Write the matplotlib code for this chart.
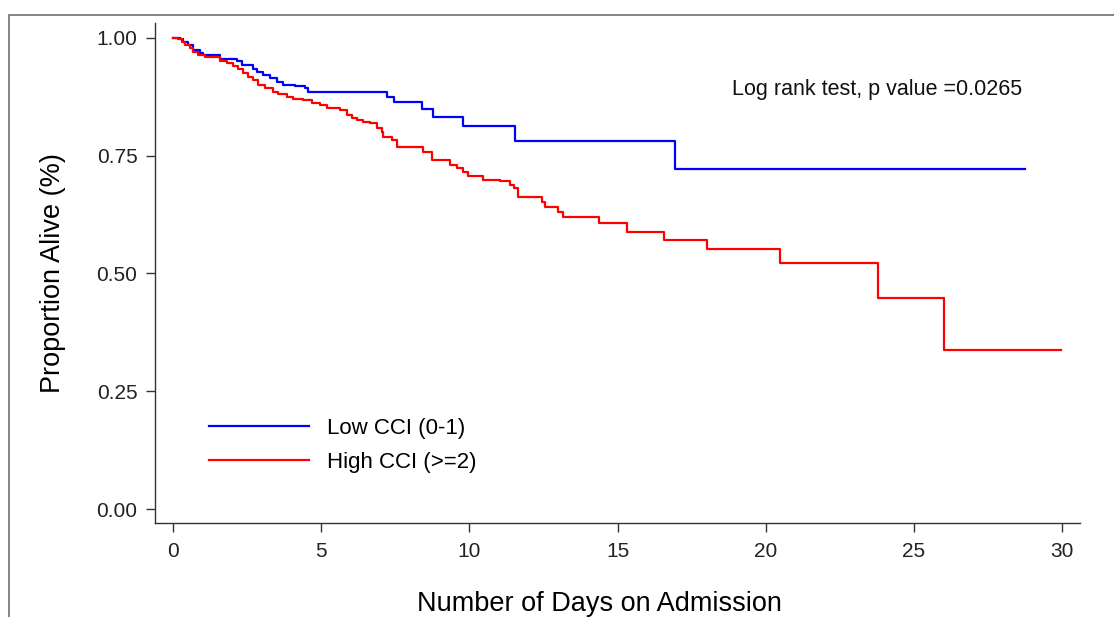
import matplotlib
matplotlib.use("Agg")
import matplotlib.pyplot as plt
from matplotlib.patches import Rectangle

plt.rcParams["font.family"] = ["Liberation Sans", "DejaVu Sans"]

# Kaplan-Meier step points (day, survival)
low_days = [0.0, 0.24, 0.35, 0.52, 0.69, 0.91, 1.02, 1.59, 2.15, 2.32, 2.71, 2.82,
            3.05, 3.27, 3.50, 3.72, 4.12, 4.45, 4.57, 7.23, 7.45, 8.39, 8.79, 9.80,
            11.54, 16.94, 28.75]
low_surv = [1.000, 0.997, 0.992, 0.985, 0.975, 0.967, 0.964, 0.955, 0.950, 0.943, 0.935, 0.928,
            0.921, 0.914, 0.907, 0.900, 0.897, 0.893, 0.885, 0.874, 0.863, 0.849, 0.832, 0.812,
            0.781, 0.721, 0.721]

high_days = [0.0, 0.18, 0.29, 0.40, 0.57, 0.69, 0.85, 1.08, 1.42, 1.59, 1.81, 2.04, 2.20,
             2.37, 2.54, 2.71, 2.88, 3.10, 3.39, 3.55, 3.84, 4.06, 4.40, 4.68, 4.96,
             5.19, 5.64, 5.86, 6.03, 6.20, 6.42, 6.65, 6.87, 7.04, 7.10, 7.38, 7.55,
             8.45, 8.73, 9.24, 9.35, 9.57, 9.80, 9.97, 10.47, 11.04, 11.37, 11.49,
             11.65, 12.44, 12.55, 13.00, 13.17, 14.38, 15.33, 16.55, 18.03, 20.49,
             23.78, 26.00, 29.97]
high_surv = [1.000, 0.997, 0.992, 0.985, 0.978, 0.971, 0.964, 0.960, 0.959, 0.950, 0.946, 0.940,
             0.933, 0.925, 0.918, 0.911, 0.900, 0.893, 0.886, 0.882, 0.874, 0.870, 0.868,
             0.861, 0.858, 0.851, 0.847, 0.837, 0.829, 0.826, 0.822, 0.819, 0.808, 0.801,
             0.790, 0.783, 0.768, 0.757, 0.741, 0.740, 0.730, 0.723, 0.716, 0.706, 0.699,
             0.697, 0.688, 0.681, 0.663, 0.652, 0.642, 0.631, 0.619, 0.607, 0.589, 0.571,
             0.551, 0.523, 0.447, 0.338, 0.338]

labels = ["Low CCI (0-1)", "High CCI (>=2)"]
x_ticks = [0, 5, 10, 15, 20, 25, 30]
y_ticks = [0.00, 0.25, 0.50, 0.75, 1.00]
p_text = "Log rank test, p value =0.0265"

fig = plt.figure(figsize=(11.14, 6.17), dpi=100)
ax = fig.add_axes([0.139, 0.152, 0.8305, 0.811])

# outer frame, cut off at the right and bottom edges
fig.patches.append(Rectangle((9 / 1114, -0.1), 1.2, 1 - 15 / 617 + 0.1,
                             transform=fig.transFigure, fill=False,
                             edgecolor="#7a7a7a", linewidth=1.3))

ax.step(low_days, low_surv, where="post", color="#0000ff", lw=1.6, label=labels[0])
ax.step(high_days, high_surv, where="post", color="#ff0000", lw=1.6, label=labels[1])

ax.set_xlim(-0.61, 30.6)
ax.set_ylim(-0.03, 1.032)
ax.set_xticks(x_ticks)
ax.set_yticks(y_ticks)
ax.set_yticklabels([f"{v:.2f}" for v in y_ticks])
for s in ["top", "right"]:
    ax.spines[s].set_visible(False)
for s in ["left", "bottom"]:
    ax.spines[s].set_color("#333333")
    ax.spines[s].set_linewidth(1.0)
ax.tick_params(axis="both", direction="out", length=6.5, width=1.0,
               color="#333333", labelsize=15, labelcolor="#222222")
ax.tick_params(axis="x", pad=7)
ax.tick_params(axis="y", pad=6)

ax.set_ylabel("Proportion Alive (%)", fontsize=19.5, labelpad=22)
ax.set_xlabel("Number of Days on Admission", fontsize=19.5)
ax.xaxis.set_label_coords(0.481, -0.136)

ax.text(0.937, 0.866, p_text, transform=ax.transAxes, ha="right", va="center",
        fontsize=15.5, color="#111111")

ax.legend(loc="lower left", bbox_to_anchor=(0.059, 0.1), frameon=False,
          borderpad=0, borderaxespad=0,
          fontsize=16, handlelength=4.5, handletextpad=0.8, labelspacing=0.6)

fig.savefig("out.png", dpi=100)
